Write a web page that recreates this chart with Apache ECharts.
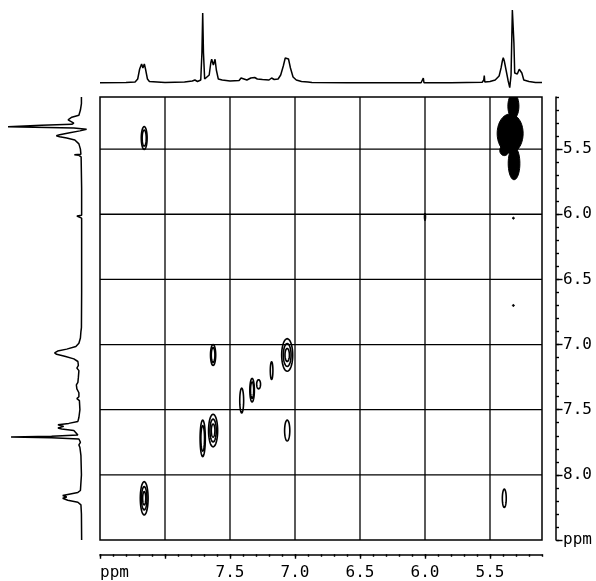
<!DOCTYPE html>
<html>
<head>
<meta charset="utf-8">
<script src="https://cdn.jsdelivr.net/npm/echarts@6/dist/echarts.min.js"></script>
<style>
  html, body { margin: 0; padding: 0; background: #fff; }
  #chart { width: 596px; height: 581px; }
</style>
</head>
<body>
<div id="chart"></div>
<script>
// 1D projection trace: [ppm, intensity]
const specTrace = [
  [8.50, 0.3], [8.30, 0.5], [8.23, 1], [8.21, 4], [8.195, 14], [8.18, 19], [8.17, 15],
  [8.159, 19], [8.15, 14], [8.135, 4], [8.12, 1.5], [8.00, 0.5], [7.85, 1], [7.79, 2],
  [7.77, 3], [7.75, 1.5], [7.725, 3], [7.716, 30], [7.71, 70], [7.704, 30], [7.695, 4],
  [7.68, 3], [7.66, 8], [7.648, 20], [7.641, 23.7], [7.628, 18], [7.615, 23.7], [7.605, 13],
  [7.59, 4], [7.56, 3], [7.50, 2], [7.43, 2.5], [7.415, 5], [7.41, 5.7], [7.40, 3],
  [7.37, 3], [7.34, 5], [7.33, 6], [7.31, 5.5], [7.29, 4], [7.25, 3.5], [7.20, 3],
  [7.18, 5], [7.16, 3.5], [7.13, 4], [7.11, 8], [7.09, 17], [7.075, 25], [7.064, 27],
  [7.05, 24], [7.035, 15], [7.015, 6], [6.99, 3], [6.95, 1.5], [6.90, 1], [6.885, 2],
  [6.87, 0.5], [6.60, 0.3], [6.28, 0.3], [6.27, 1.5], [6.26, 0.3], [6.03, 0.3], [6.015, 2],
  [6.013, 5], [6.008, 0.3], [5.80, 0.3], [5.56, 0.8], [5.548, 3], [5.544, 7.5], [5.54, 1],
  [5.50, 1.5], [5.46, 3], [5.43, 7], [5.415, 15], [5.405, 22], [5.398, 25.3], [5.39, 22],
  [5.375, 12], [5.36, 2], [5.348, -4.6], [5.338, 8], [5.328, 73], [5.322, 73], [5.316, 40],
  [5.31, 10], [5.30, 8], [5.29, 9], [5.275, 13.7], [5.264, 13.7], [5.255, 10], [5.24, 3],
  [5.20, 1.5], [5.15, 0.5], [5.10, 0.5]
]

// cross peaks (contours): centre f2, centre f1, width, height (ppm), number of rings
const peakX = [8.16, 7.63, 7.06, 7.18, 7.28, 7.33, 7.41, 7.63, 7.71, 7.06, 8.16, 5.39]
const peakY = [5.415, 7.08, 7.08, 7.20, 7.305, 7.35, 7.43, 7.66, 7.72, 7.66, 8.18, 8.18]
const peakW = [0.045, 0.04, 0.085, 0.02, 0.03, 0.035, 0.03, 0.07, 0.04, 0.04, 0.06, 0.03]
const peakH = [0.175, 0.16, 0.25, 0.135, 0.07, 0.18, 0.19, 0.25, 0.28, 0.16, 0.255, 0.14]
const peakRings = [2, 2, 3, 1, 1, 2, 1, 3, 2, 1, 3, 1]

// solid (saturated) spots
const blobX = [5.32, 5.345, 5.315, 5.39, 6.00, 5.32, 5.32]
const blobY = [5.17, 5.38, 5.61, 5.51, 6.02, 6.03, 6.70]
const blobW = [0.085, 0.2, 0.09, 0.07, 0.012, 0.015, 0.015]
const blobH = [0.19, 0.3, 0.25, 0.08, 0.06, 0.015, 0.015]

const gridVals = [5.5, 6.0, 6.5, 7.0, 7.5, 8.0]
const majorTicks = [5.5, 6.0, 6.5, 7.0, 7.5, 8.0, 8.5]
const bottomLabels = [5.5, 6.0, 6.5, 7.0, 7.5]
const rightLabels = [5.5, 6.0, 6.5, 7.0, 7.5, 8.0, 8.5]

const FONT = 'DejaVu Sans Mono'
const chart = echarts.init(document.getElementById('chart'))

function ellipse(cx, cy, rx, ry) {
  const pts = []
  for (let i = 0; i < 40; i++) {
    const a = (i / 40) * Math.PI * 2
    pts.push([cx + rx * Math.cos(a), cy + ry * Math.sin(a)])
  }
  return pts
}

const ppmAxis = { type: 'value', min: 5.1, max: 8.5, inverse: true, show: false }
const tickStyle = { color: '#000', width: 1.4 }

chart.setOption({
  animation: false,
  backgroundColor: '#fff',
  grid: [
    { left: 100, top: 97, width: 442, height: 443, show: true, borderColor: '#000', borderWidth: 1.5 },
    { left: 100, top: 10, width: 442, height: 78 },
    { left: 8, top: 97, width: 79, height: 443 },
    { left: 100, top: 554, width: 442, height: 1 },
    { left: 556, top: 97, width: 1, height: 443 },
  ],
  xAxis: [
    { ...ppmAxis, gridIndex: 0 },
    { ...ppmAxis, gridIndex: 1 },
    { type: 'value', gridIndex: 2, min: -5, max: 73, inverse: true, show: false },
    {
      type: 'value', gridIndex: 3, min: 5.1, max: 8.5, interval: 0.1, inverse: true, position: 'bottom',
      axisLine: { lineStyle: { color: '#000', width: 1.5 } },
      axisTick: { length: 2.5, lineStyle: tickStyle },
      axisLabel: { show: false }, splitLine: { show: false },
    },
    {
      type: 'value', gridIndex: 3, min: 5.1, max: 8.5, inverse: true, position: 'bottom',
      axisLine: { show: false },
      axisTick: { customValues: majorTicks, length: 4.5, lineStyle: tickStyle },
      axisLabel: {
        customValues: bottomLabels, margin: 11, color: '#000', fontFamily: FONT, fontSize: 16,
        formatter: (v) => v.toFixed(1),
      },
      splitLine: { show: false },
    },
    { type: 'value', gridIndex: 4, show: false },
  ],
  yAxis: [
    { ...ppmAxis, gridIndex: 0 },
    { type: 'value', gridIndex: 1, min: -5, max: 73, show: false },
    { ...ppmAxis, gridIndex: 2 },
    { type: 'value', gridIndex: 3, show: false },
    {
      type: 'value', gridIndex: 4, min: 5.1, max: 8.5, interval: 0.1, inverse: true, position: 'right',
      axisLine: { lineStyle: { color: '#000', width: 1.5 } },
      axisTick: { length: 3, lineStyle: tickStyle },
      axisLabel: { show: false }, splitLine: { show: false },
    },
    {
      type: 'value', gridIndex: 4, min: 5.1, max: 8.5, inverse: true, position: 'right',
      axisLine: { show: false },
      axisTick: { customValues: majorTicks, length: 5.5, lineStyle: tickStyle },
      axisLabel: {
        customValues: rightLabels, margin: 6, color: '#000', fontFamily: FONT, fontSize: 16,
        formatter: (v) => (v >= 8.5 ? 'ppm' : v.toFixed(1)),
      },
      splitLine: { show: false },
    },
  ],
  graphic: [
    { type: 'text', left: 100, top: 565, style: { text: 'ppm', fill: '#000', font: '16px ' + FONT } },
  ],
  series: [
    {
      // grid lines inside the 2D box
      type: 'custom', xAxisIndex: 0, yAxisIndex: 0, silent: true,
      data: gridVals.map((v) => [v, v]),
      renderItem: (params, api) => {
        const v = api.value(0)
        const a = api.coord([v, 5.1]), b = api.coord([v, 8.5])
        const c = api.coord([8.5, v]), d = api.coord([5.1, v])
        const st = { stroke: '#000', lineWidth: 1.3 }
        return {
          type: 'group',
          children: [
            { type: 'line', shape: { x1: a[0], y1: a[1], x2: b[0], y2: b[1] }, style: st },
            { type: 'line', shape: { x1: c[0], y1: c[1], x2: d[0], y2: d[1] }, style: st },
          ],
        }
      },
    },
    {
      // contour rings
      type: 'custom', xAxisIndex: 0, yAxisIndex: 0, silent: true, clip: true,
      data: peakX.map((x, i) => [x, peakY[i], peakW[i], peakH[i], peakRings[i]]),
      renderItem: (params, api) => {
        const c = api.coord([api.value(0), api.value(1)])
        const s = api.size([api.value(2), api.value(3)])
        const n = api.value(4)
        const children = []
        for (let k = 0; k < n; k++) {
          const f = 1 - k * 0.3
          children.push({
            type: 'polygon',
            shape: { points: ellipse(c[0], c[1], Math.max(s[0] * f / 2, 0.8), s[1] * f / 2) },
            style: { fill: 'none', stroke: '#000', lineWidth: 1.6 },
          })
        }
        return { type: 'group', children }
      },
    },
    {
      // saturated spots
      type: 'custom', xAxisIndex: 0, yAxisIndex: 0, silent: true, clip: true,
      data: blobX.map((x, i) => [x, blobY[i], blobW[i], blobH[i]]),
      renderItem: (params, api) => {
        const c = api.coord([api.value(0), api.value(1)])
        const s = api.size([api.value(2), api.value(3)])
        return {
          type: 'polygon',
          shape: { points: ellipse(c[0], c[1], s[0] / 2, s[1] / 2) },
          style: { fill: '#000', stroke: '#000', lineWidth: 1 },
        }
      },
    },
    {
      type: 'line', xAxisIndex: 1, yAxisIndex: 1, data: specTrace, showSymbol: false,
      clip: false, lineStyle: { color: '#000', width: 1.5 }, silent: true,
    },
    {
      type: 'line', xAxisIndex: 2, yAxisIndex: 2, data: specTrace.map((p) => [p[1], p[0]]),
      showSymbol: false, clip: false, lineStyle: { color: '#000', width: 1.5 }, silent: true,
    },
  ],
})
</script>
</body>
</html>
